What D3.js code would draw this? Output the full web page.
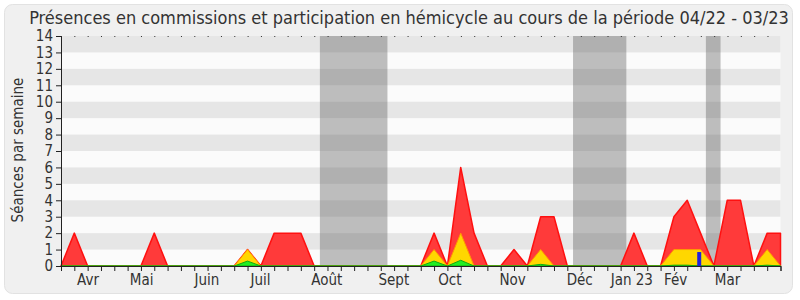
<!DOCTYPE html>
<html><head><meta charset="utf-8">
<script src="https://cdn.jsdelivr.net/npm/d3@7"></script>
<style>
html,body{margin:0;padding:0;background:#fff;}
text{font-family:"DejaVu Sans Condensed","DejaVu Sans",sans-serif;font-stretch:condensed;fill:#333;}
</style></head>
<body><svg id="c" width="800" height="300"></svg>
<script>
// Data: weekly values, week index 0..54 (04/22 - 03/23)
const weeks = d3.range(0, 55);
const presences = [0,2,0,0,0,0,0,2,0,0, 0,0,0,0,1,0,2,2,2,0, 0,0,0,0,0,0,0,0,2,0, 6,2,0,0,1,0,3,3,0,0, 0,0,0,2,0,0,3,4,2,0, 4,4,0,2,2];
const hemicycle  = [0,0,0,0,0,0,0,0,0,0, 0,0,0,0,1,0,0,0,0,0, 0,0,0,0,0,0,0,0,1,0, 2,0,0,0,0,0,1,0,0,0, 0,0,0,0,0,0,1,1,1,0, 0,0,0,1,0];
const interventions = [0,0,0,0,0,0,0,0,0,0, 0,0,0,0,0.3,0,0,0,0,0, 0,0,0,0,0,0,0,0,0.3,0, 0.35,0,0,0,0,0,0.1,0,0,0, 0,0,0,0,0,0,0.05,0.05,0,0, 0,0,0,0.05,0];
const questions = [{week: 47.9, value: 0.85}];
const vacations = [[19.43, 24.5], [38.43, 42.43], [48.4, 49.5]];
const monthLabels = ["Avr","Mai","Juin","Juil","Août","Sept","Oct","Nov","Déc","Jan 23","Fév","Mar"];
const monthWeeks = [2.03, 6.05, 10.95, 14.97, 19.95, 24.98, 29.18, 33.9, 38.93, 42.84, 46.13, 50.03];
const yTicks = d3.range(0, 15);
const title = "Présences en commissions et participation en hémicycle au cours de la période 04/22 - 03/23";
const yLabel = "Séances par semaine";

const svg = d3.select("#c");
const x = d3.scaleLinear().domain([0, 54]).range([61, 780.5]);
const y = d3.scaleLinear().domain([0, 14]).range([266, 36]);

// panel
svg.append("rect").attr("x", 4.5).attr("y", 4.5).attr("width", 788).attr("height", 289)
  .attr("rx", 8).attr("fill", "#f0f0f0").attr("stroke", "#e2e2e2");

// plot background stripes
const g = svg.append("g");
g.append("rect").attr("x", x(0)).attr("y", y(14)).attr("width", x(54) - x(0)).attr("height", y(0) - y(14)).attr("fill", "#fbfbfb");
g.selectAll("rect.stripe").data(d3.range(1, 14, 2)).join("rect").attr("class", "stripe")
  .attr("x", x(0)).attr("width", x(54) - x(0))
  .attr("y", d => y(d + 1)).attr("height", d => y(d) - y(d + 1)).attr("fill", "#e6e6e6");

// vacations
g.selectAll("rect.vac").data(vacations).join("rect").attr("class", "vac")
  .attr("x", d => x(d[0])).attr("width", d => x(d[1]) - x(d[0]))
  .attr("y", y(14)).attr("height", y(0) - y(14))
  .attr("fill", "rgb(90,90,90)").attr("fill-opacity", 0.38);

// top dotted line
g.append("line").attr("x1", x(0)).attr("x2", x(54)).attr("y1", y(14) + 0.5).attr("y2", y(14) + 0.5)
  .attr("stroke", "#333").attr("stroke-dasharray", "1,12.33");

const area = vals => d3.area().x((d, i) => x(weeks[i])).y0(y(0)).y1(d => y(d))(vals);

g.append("path").attr("d", area(presences)).attr("fill", "#ff3a3a").attr("stroke", "#ff1010").attr("stroke-width", 1.5).attr("stroke-linejoin", "round");
g.append("path").attr("d", area(hemicycle)).attr("fill", "#ffd700").attr("stroke", "#ff9a00").attr("stroke-width", 1);
g.append("path").attr("d", area(interventions)).attr("fill", "#22ee22").attr("stroke", "#11aa11").attr("stroke-width", 1);

g.selectAll("rect.q").data(questions).join("rect").attr("class", "q")
  .attr("x", d => x(d.week) - 2).attr("width", 4)
  .attr("y", d => y(d.value)).attr("height", d => y(0) - y(d.value)).attr("fill", "#2222dd");

// axes
const ax = svg.append("g").attr("transform", `translate(0,${y(0)})`)
  .call(d3.axisBottom(x).tickValues(weeks).tickSize(5).tickFormat(""));
ax.select(".domain").attr("stroke", "#222");
ax.selectAll(".tick line").attr("stroke", "#222");

svg.selectAll("text.month").data(monthLabels).join("text").attr("class", "month")
  .attr("x", (d, i) => x(monthWeeks[i])).attr("y", 285)
  .attr("text-anchor", "middle").attr("font-size", 15).text(d => d);

const ay = svg.append("g").attr("transform", `translate(${x(0)},0)`)
  .call(d3.axisLeft(y).tickValues(yTicks).tickSize(5).tickPadding(3).tickFormat(d3.format("d")));
ay.select(".domain").attr("stroke", "#222");
ay.selectAll(".tick line").attr("stroke", "#222");
ay.selectAll(".tick text").attr("font-size", 15).attr("fill", "#333")
  .style("font-family", '"DejaVu Sans Condensed","DejaVu Sans",sans-serif');

svg.append("text").attr("transform", "translate(23,150) rotate(-90)")
  .attr("text-anchor", "middle").attr("font-size", 15).text(yLabel);

svg.append("text").attr("x", 409).attr("y", 24).attr("text-anchor", "middle")
  .attr("font-size", 18).text(title);
</script></body></html>
